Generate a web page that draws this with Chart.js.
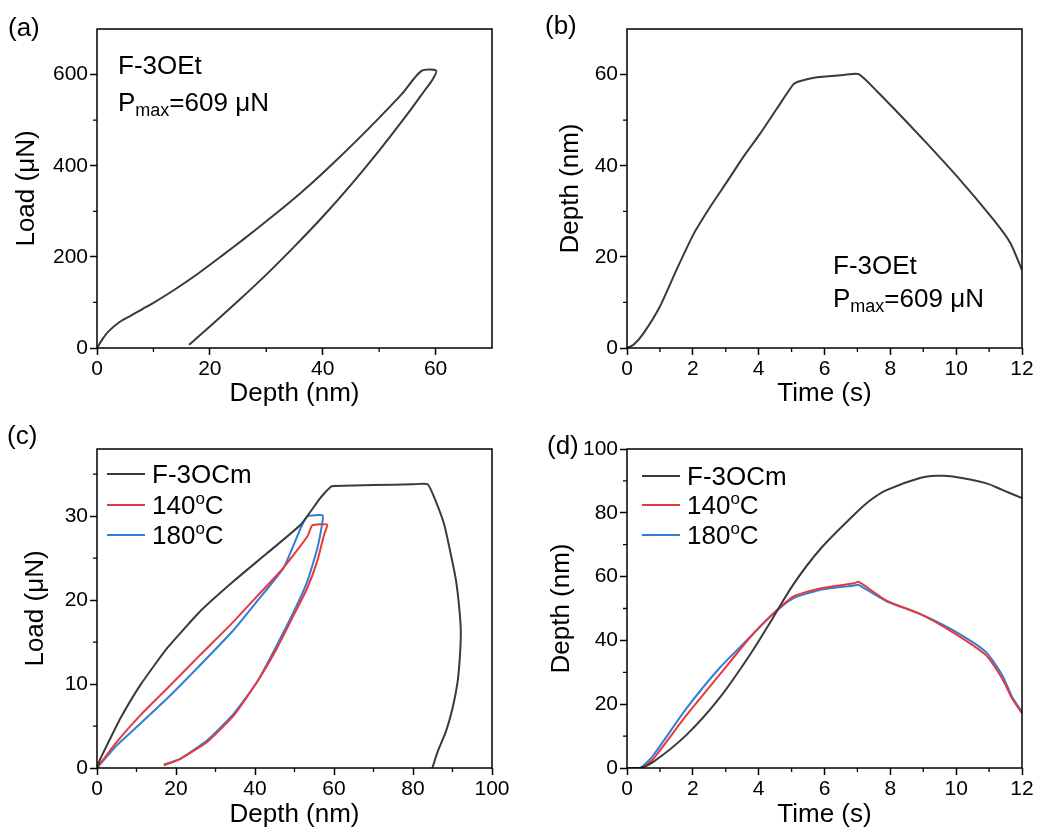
<!DOCTYPE html>
<html>
<head>
<meta charset="utf-8">
<script src="https://cdn.jsdelivr.net/npm/chart.js@4.4.0/dist/chart.umd.min.js"></script>
<style>
  body { margin: 0; background: #fff; }
  #fig { position: relative; width: 1040px; height: 830px; font-family: 'Liberation Sans', Arial, sans-serif; color: #000; }
  #fig canvas { position: absolute; }
  .txt { position: absolute; font-size: 26px; line-height: 26px; white-space: nowrap; }
  .sub { font-size: 18px; vertical-align: -5px; line-height: 0; }
  .sup { font-size: 17px; vertical-align: 10px; line-height: 0; }
  .key { position: absolute; height: 2px; width: 38px; }
</style>
</head>
<body>
<div id="fig">
  <canvas id="chartA" width="520" height="415" style="left:0;top:0"></canvas>
  <canvas id="chartB" width="520" height="415" style="left:520px;top:0"></canvas>
  <canvas id="chartC" width="520" height="415" style="left:0;top:415px"></canvas>
  <canvas id="chartD" width="520" height="415" style="left:520px;top:415px"></canvas>

  <div class="txt" style="left:8px;top:14px">(a)</div>
  <div class="txt" style="left:545px;top:12px">(b)</div>
  <div class="txt" style="left:7px;top:422px">(c)</div>
  <div class="txt" style="left:547px;top:432px">(d)</div>

  <div class="txt" style="left:118px;top:52px">F-3OEt</div>
  <div class="txt" style="left:118px;top:89px">P<span class="sub">max</span>=609 μN</div>
  <div class="txt" style="left:833px;top:252px">F-3OEt</div>
  <div class="txt" style="left:833px;top:285px">P<span class="sub">max</span>=609 μN</div>

  <div id="legendC"></div>
  <div id="legendD"></div>
</div>
<script>
// (a) F-3OEt load vs depth (loading, hold, unloading)
const aDepth = [0, 1, 2, 4, 6, 8, 10, 14, 18, 22, 26, 30, 34, 38, 42, 46, 50, 54, 57.5,
  60.1, 59.5, 58, 55, 50, 45, 40, 35, 30, 25, 20, 16.3];
const aLoad = [0, 20, 36, 57, 71, 85, 99, 130, 164, 201, 239, 278, 318, 361, 407, 455, 505, 557, 608,
  609, 590, 564, 513, 433, 358, 288, 223, 161, 103, 47, 7];

// (b) F-3OEt depth vs time
const bTime = [0, 0.2, 0.5, 1.0, 1.5, 2.03, 2.53, 3.04, 3.54, 4.05, 4.56, 5.06, 5.27, 5.77, 6.58, 7.04,
  7.6, 8.1, 9.11, 10.13, 11.14, 11.65, 12];
const bDepth = [0, 0.7, 3.2, 9.1, 17.1, 25.1, 31, 36.5, 42, 47.1, 52.6, 57.9, 58.6, 59.4, 59.9, 60.1,
  56.3, 52.6, 44.9, 36.8, 28.1, 23, 17.1];

// (c) load vs depth
const seriesLabels = ['F-3OCm', '140oC', '180oC'];
const seriesColors = ['#3a3a3a', '#e8393b', '#2f7ed8'];

const cDepthCm = [0, 0.85, 2.5, 5.9, 11, 17.8, 26.2, 34.7, 43.1, 51.6, 56.6, 59.2, 60, 70, 80, 83.7,
  85.4, 87.9, 89.6, 90.9, 91.7, 92.1, 91.9, 91.3, 90.0, 88.3, 86.2, 84.9];
const cLoadCm = [0, 1.1, 2.7, 5.9, 9.9, 14.3, 18.7, 22.3, 25.6, 29, 32.2, 33.5, 33.6, 33.7, 33.8, 33.8,
  32.2, 29.0, 25.4, 22.3, 19.1, 16.3, 13.5, 10.3, 7.1, 4.3, 1.9, 0];
const cDepth140 = [0, 5, 11, 17.8, 26.2, 34.7, 40.6, 47.3, 53.3, 54.5, 58.3,
  57.5, 55.8, 53.3, 49.9, 45.6, 40.6, 34.7, 27.9, 21.1, 16.9];
const cLoad140 = [0, 3.1, 6.3, 9.5, 13.5, 17.5, 20.5, 23.9, 27.6, 28.9, 29,
  27.8, 24.7, 21.5, 18.3, 14.3, 10.3, 6.3, 3.1, 1.1, 0.3];
const cDepth180 = [0, 5, 11, 17.8, 26.2, 34.7, 40.6, 47.3, 51.6, 53.3, 57.1,
  57.1, 55.8, 53.3, 49.9, 45.6, 40.6, 34.7, 27.9, 21.1, 16.9];
const cLoad180 = [0, 2.7, 5.3, 8.3, 12.3, 16.5, 19.9, 23.9, 28.6, 30, 30.1,
  29.4, 26.2, 22.3, 18.7, 14.7, 10.3, 6.5, 3.3, 1.1, 0.4];

// (d) depth vs time
const dTimeCm = [0, 0.39, 0.8, 1.8, 2.8, 3.8, 4.4, 5.05, 5.86, 6.9, 7.4, 7.9, 8.9, 9.4, 9.9, 10.9, 11.4, 12];
const dDepthCm = [0, 0, 1.9, 10.3, 21.8, 36.5, 46.5, 57.5, 68.5, 79.4, 84, 87.2, 90.9, 91.6, 91.4, 89.3, 87.2, 84.6];
const dTime140 = [0, 0.45, 0.8, 1.8, 2.8, 3.8, 4.4, 5.05, 5.86, 6.9, 7.03, 7.9, 8.9, 9.9, 10.9, 11.4, 11.7, 12];
const dDepth140 = [0, 0, 2.9, 16.5, 29.1, 41.7, 48, 53.7, 56.3, 57.9, 58.4, 52.4, 48.3, 42.5, 35.4, 28, 21.8, 17.1];
const dTime180 = [0, 0.4, 0.8, 1.8, 2.8, 3.8, 4.4, 5.05, 5.86, 6.9, 7.03, 7.9, 8.9, 9.9, 10.9, 11.4, 11.7, 12];
const dDepth180 = [0, 0, 4, 18.6, 31.2, 41.7, 48, 53.2, 55.8, 57.2, 57.4, 52.2, 48.3, 43.2, 36.4, 29.1, 22.3, 17.6];

Chart.defaults.font.family = "'Liberation Sans', Arial, sans-serif";
Chart.defaults.color = '#000';

const pts = (xs, ys) => xs.map((x, i) => ({ x, y: ys[i] }));

// frame box + minor ticks (drawn from the scales)
const frameMinor = {
  id: 'frameMinor',
  afterDraw(chart, args, opts) {
    const { ctx, chartArea: ca, scales } = chart;
    ctx.save();
    ctx.strokeStyle = '#000';
    ctx.lineWidth = 1.5;
    ctx.strokeRect(ca.left, ca.top, ca.right - ca.left, ca.bottom - ca.top);
    ctx.lineWidth = 1.3;
    ctx.beginPath();
    ['x', 'y'].forEach(k => {
      const s = scales[k];
      const minor = opts[k + 'Minor'];
      const major = s.options.ticks.stepSize;
      const n = Math.round((s.max - s.min) / minor);
      for (let i = 1; i < n; i++) {
        const v = s.min + i * minor;
        if (Math.abs(v / major - Math.round(v / major)) < 1e-6) continue;
        const p = s.getPixelForValue(v);
        if (k === 'x') { ctx.moveTo(p, ca.bottom); ctx.lineTo(p, ca.bottom + 4); }
        else { ctx.moveTo(ca.left, p); ctx.lineTo(ca.left - 4, p); }
      }
    });
    ctx.stroke();
    ctx.restore();
  }
};

function axisOpts(ax, size) {
  return {
    type: 'linear',
    min: ax.min,
    max: ax.max,
    border: { display: false },
    grid: { drawOnChartArea: false, tickLength: 7, tickWidth: 1.5, tickColor: '#000' },
    ticks: { stepSize: ax.step, includeBounds: false, padding: ax.pad, color: '#000',
      font: { size: 21 }, maxRotation: 0, autoSkip: false },
    title: { display: true, text: ax.title, color: '#000', font: { size: 26 }, padding: ax.titlePad },
    afterFit: s => { if (s.isHorizontal()) s.height = size; else s.width = size; }
  };
}

function line(data, color, tension) {
  return { data, showLine: true, borderColor: color, borderWidth: 2, pointRadius: 0, fill: false, tension };
}

function makePanel(id, box, xAx, yAx, datasets) {
  return new Chart(document.getElementById(id), {
    type: 'scatter',
    data: { datasets },
    options: {
      responsive: false,
      animation: false,
      devicePixelRatio: 1,
      layout: { padding: { left: 0, top: box.top, right: 520 - box.right, bottom: 0 } },
      plugins: {
        legend: { display: false },
        tooltip: { enabled: false },
        frameMinor: { xMinor: xAx.minor, yMinor: yAx.minor }
      },
      scales: {
        x: axisOpts(xAx, 415 - box.bottom),
        y: axisOpts(yAx, box.left)
      }
    },
    plugins: [frameMinor]
  });
}

makePanel('chartA', { left: 97, right: 492, top: 29, bottom: 348 },
  { min: 0, max: 70, step: 20, minor: 10, pad: 2, title: 'Depth (nm)', titlePad: { top: 0, bottom: 6 } },
  { min: 0, max: 700, step: 200, minor: 100, pad: 2, title: 'Load (μN)', titlePad: { top: 11, bottom: 0 } },
  [line(pts(aDepth, aLoad), seriesColors[0], 0.25)]);

makePanel('chartB', { left: 107, right: 502, top: 29, bottom: 348 },
  { min: 0, max: 12, step: 2, minor: 1, pad: 2, title: 'Time (s)', titlePad: { top: 0, bottom: 6 } },
  { min: 0, max: 70, step: 20, minor: 10, pad: 2, title: 'Depth (nm)', titlePad: { top: 35, bottom: 0 } },
  [line(pts(bTime, bDepth), seriesColors[0], 0.2)]);

makePanel('chartC', { left: 97, right: 492, top: 34, bottom: 353 },
  { min: 0, max: 100, step: 20, minor: 10, pad: 2, title: 'Depth (nm)', titlePad: { top: 0, bottom: 0 } },
  { min: 0, max: 38, step: 10, minor: 5, pad: 2, title: 'Load (μN)', titlePad: { top: 20, bottom: 0 } },
  [line(pts(cDepthCm, cLoadCm), seriesColors[0], 0.15),
   line(pts(cDepth140, cLoad140), seriesColors[1], 0.15),
   line(pts(cDepth180, cLoad180), seriesColors[2], 0.15)]);

makePanel('chartD', { left: 107, right: 502, top: 34, bottom: 353 },
  { min: 0, max: 12, step: 2, minor: 1, pad: 2, title: 'Time (s)', titlePad: { top: 0, bottom: 0 } },
  { min: 0, max: 100, step: 20, minor: 10, pad: 2, title: 'Depth (nm)', titlePad: { top: 26, bottom: 0 } },
  [line(pts(dTimeCm, dDepthCm), seriesColors[0], 0.3),
   line(pts(dTime140, dDepth140), seriesColors[1], 0.2),
   line(pts(dTime180, dDepth180), seriesColors[2], 0.2)]);

// legends inside panels (c) and (d)
function buildLegend(el, lineLeft, textLeft, rows) {
  el.innerHTML = seriesLabels.map((lab, i) => {
    const html = lab.replace(/(\d+)oC/, '$1<span class="sup">o</span>C');
    return `<div class="key" style="left:${lineLeft}px;top:${rows[i] - 1}px;background:${seriesColors[i]}"></div>` +
      `<div class="txt" style="left:${textLeft}px;top:${rows[i] - 13}px">${html}</div>`;
  }).join('');
}
buildLegend(document.getElementById('legendC'), 107, 152, [474, 505, 535]);
buildLegend(document.getElementById('legendD'), 642, 687, [476, 505, 535]);
</script>
</body>
</html>
